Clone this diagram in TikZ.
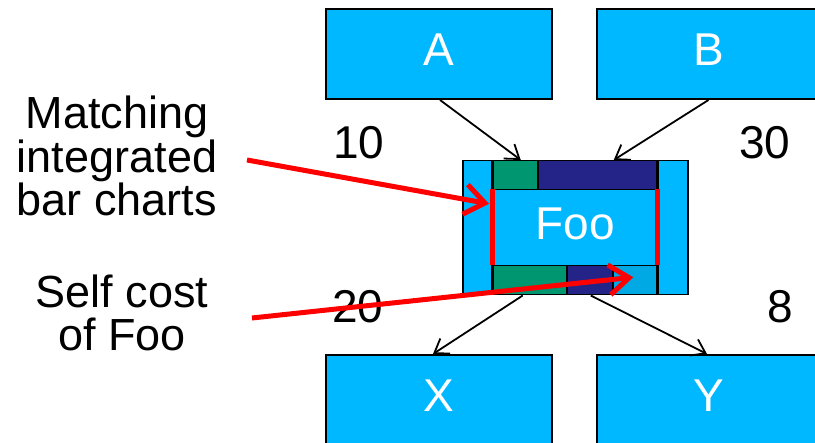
\documentclass[tikz,border=0pt]{standalone}
\usepackage{fontspec}
\setmainfont{Liberation Sans}
\usetikzlibrary{arrows.meta}
\definecolor{boxcyan}{HTML}{00B8FF}
\definecolor{bargreen}{HTML}{009670}
\definecolor{barnavy}{HTML}{232388}
\definecolor{barlight}{HTML}{00A8E4}
\definecolor{markred}{HTML}{FF0000}
\tikzset{
  bigbox/.style={draw=black, line width=2pt, fill=boxcyan, minimum width=226pt, minimum height=90pt, inner sep=0pt, text=white, font=\fontsize{46}{46}\selectfont, text height=33pt, text depth=10pt},
  cell/.style={draw=black, line width=1.5pt, inner sep=0pt, anchor=north west},
  label/.style={font=\fontsize{46}{46}\selectfont, inner sep=0pt, anchor=base},
  note/.style={font=\fontsize{45}{43.5}\selectfont, align=center, inner sep=0pt},
  blackarrow/.style={line width=1.8pt, -{Straight Barb[length=13pt,width=18pt,line width=1.8pt]}},
  redarrow/.style={draw=markred, line width=5pt, -{Straight Barb[length=20pt,width=30pt,line width=5pt]}},
}
\begin{document}
\begin{tikzpicture}[x=1pt,y=-1pt]
\useasboundingbox (0,0) rectangle (815,443);
% outer boxes
\node[bigbox, minimum height=90pt] (A) at (439,54) {A};
\node[bigbox, minimum width=223pt] (B) at (708.5,54) {B};
\node[bigbox] (X) at (439,400) {X};
\node[bigbox, minimum width=223pt] (Y) at (708.5,400) {Y};
% Foo composite
\node[cell, fill=boxcyan, minimum width=225pt, minimum height=134pt] (foo) at (462,160) {};
\node[cell, fill=bargreen, minimum width=45pt, minimum height=29pt] (tg) at (492,160) {};
\node[cell, fill=barnavy, minimum width=120pt, minimum height=29pt] (tn) at (537,160) {};
\node[cell, fill=boxcyan, minimum width=165pt, minimum height=76pt, text=white, font=\fontsize{46}{46}\selectfont, text height=33pt, text depth=10pt] (mid) at (492,189) {Foo};
\node[cell, fill=bargreen, minimum width=74pt, minimum height=29pt] (bg) at (492,265) {};
\node[cell, fill=barnavy, minimum width=46pt, minimum height=29pt] (bn) at (566,265) {};
\node[cell, fill=barlight, minimum width=45pt, minimum height=29pt] (bl) at (612,265) {};
\draw[line width=1.5pt] (492,160) -- (492,294) (657,160) -- (657,294);
% black arrows
\draw[blackarrow] ([xshift=1pt]A.south) -- ([xshift=-54.5pt]foo.north);
\draw[blackarrow] (B.south) -- ([xshift=38.5pt]foo.north);
\draw[blackarrow] ([xshift=-52.5pt]foo.south) -- ([xshift=-6pt]X.north);
\draw[blackarrow] ([xshift=15.5pt]foo.south) -- ([xshift=-1.5pt]Y.north);
% numbers
\node[label] (n10) at (359,159) {10};
\node[label] (n30) at (765,159) {30};
\node[label] (n20) at (358,323) {20};
\node[label] (n8) at (780,323) {8};
% notes
\node[note] (t1) at (117,156) {Matching\\integrated\\bar charts};
\node[note] (t2) at (122,313) {Self cost\\of Foo};
% red markers
\draw[markred, line width=5pt] (492,189) -- (492,265);
\draw[markred, line width=5pt] (657,189) -- (657,265);
\coordinate (r1) at (247,160);
\coordinate (r2) at (252,318);
\draw[redarrow] (r1) -- ([xshift=-3pt,yshift=24pt]mid.west);
\draw[redarrow] (r2) -- ([xshift=-2pt,yshift=3pt]bl.center);
\end{tikzpicture}
\end{document}
